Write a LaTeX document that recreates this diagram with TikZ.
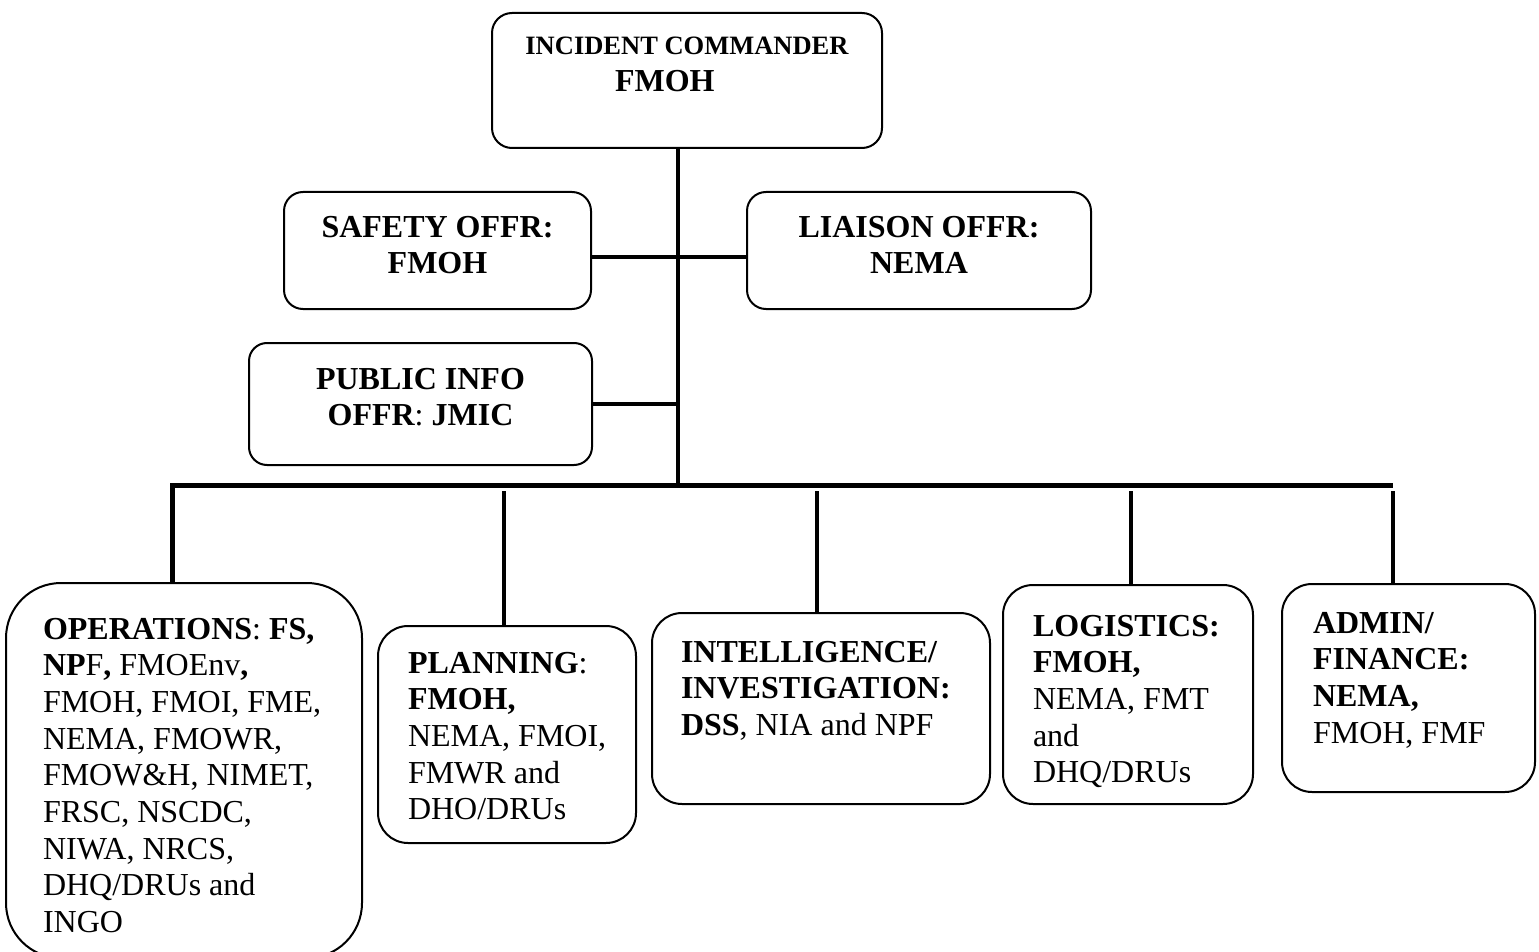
\documentclass[tikz,border=0pt]{standalone}
\usepackage{fontspec}
\setmainfont{Liberation Serif}
\begin{document}
\begin{tikzpicture}[x=1pt,y=-1pt,
  box/.style={draw, line width=2pt, rounded corners=#1pt, inner sep=0pt, outer sep=0pt, anchor=north west},
  conn/.style={line width=4.5pt},
  bar/.style={line width=5pt},
  txt/.style={inner sep=0pt, outer sep=0pt, font=\fontsize{32}{36.7}\selectfont},
]
\fill[white] (0,0) rectangle (1539,952);
\useasboundingbox (0,0) rectangle (1539,952);

% boxes
\node[box=20, minimum width=390pt, minimum height=135pt] (inc) at (492,13) {};
\node[box=19, minimum width=307pt, minimum height=117pt] (saf) at (284,192) {};
\node[box=19, minimum width=344pt, minimum height=117pt] (lia) at (747,192) {};
\node[box=18, minimum width=343pt, minimum height=122pt] (pub) at (249,343) {};
\node[box=55, minimum width=356pt, minimum height=375pt] (ops) at (6,583) {};
\node[box=30, minimum width=258pt, minimum height=217pt] (pla) at (378,626) {};
\node[box=30, minimum width=338pt, minimum height=191pt] (int) at (652,613) {};
\node[box=30, minimum width=250pt, minimum height=219pt] (log) at (1003,585) {};
\node[box=30, minimum width=253pt, minimum height=208pt] (adm) at (1282,584) {};

% texts
\node[txt, anchor=base] (incA) at (687,55) {\fontsize{26.5}{30}\selectfont\bfseries INCIDENT COMMANDER};
\node[txt, anchor=base west] (incB) at (615,92) {\bfseries FMOH};
\node[txt, anchor=base] (safT) at (437.5,237) {\parbox[t]{300pt}{\centering\bfseries SAFETY OFFR:\\FMOH}};
\node[txt, anchor=base] (liaT) at (919,237) {\parbox[t]{330pt}{\centering\bfseries LIAISON OFFR:\\NEMA}};
\node[txt, anchor=base] (pubT) at (420.5,389) {\parbox[t]{330pt}{\centering\bfseries PUBLIC INFO\\OFFR\mdseries:\bfseries{} JMIC}};

\node[txt, anchor=base west] (opsT) at (43,639) {\parbox[t]{330pt}{\raggedright
\textbf{OPERATIONS}: \textbf{FS,}\\
\textbf{NP}F\textbf{,} FMOEnv\textbf{,}\\
FMOH, FMOI, FME,\\
NEMA, FMOWR,\\
FMOW\&H, NIMET,\\
FRSC, NSCDC,\\
NIWA, NRCS,\\
DHQ/DRUs and\\
INGO}};
\node[txt, anchor=base west] (plaT) at (408,673) {\parbox[t]{240pt}{\raggedright
\textbf{PLANNING}:\\
\textbf{FMOH,}\\
NEMA, FMOI,\\
FMWR and\\
DHO/DRUs}};
\node[txt, anchor=base west] (intT) at (681,662) {\parbox[t]{320pt}{\raggedright
\textbf{INTELLIGENCE/}\\
\textbf{INVESTIGATION:}\\
\textbf{DSS}, NIA and NPF}};
\node[txt, anchor=base west] (logT) at (1033,636) {\parbox[t]{240pt}{\raggedright
\textbf{LOGISTICS:}\\
\textbf{FMOH,}\\
NEMA, FMT\\
and\\
DHQ/DRUs}};
\node[txt, anchor=base west] (admT) at (1313,633) {\parbox[t]{240pt}{\raggedright
\textbf{ADMIN/}\\
\textbf{FINANCE:}\\
\textbf{NEMA,}\\
FMOH, FMF}};

% connectors
\coordinate (hub) at (678,485);
\coordinate (barL) at (172,485);
\coordinate (barR) at (1393,485);
\coordinate (d2) at (504,491);
\coordinate (d3) at (817,491);
\coordinate (d4) at (1131,491);
\coordinate (d5) at (1393,491);

\draw[conn] (inc.south -| hub) -- (hub);
\draw[conn] ([yshift=-6.5pt]saf.east) -- ([yshift=-6.5pt]lia.west);
\draw[conn] (pub.east) -- (pub.east -| hub);
\draw[bar] (barL |- ops.north) -- (barL) -- (barR);
\draw[conn] (d2) -- (d2 |- pla.north);
\draw[conn] (d3) -- (d3 |- int.north);
\draw[conn] (d4) -- (d4 |- log.north);
\draw[conn] (d5) -- (d5 |- adm.north);
\end{tikzpicture}
\end{document}
